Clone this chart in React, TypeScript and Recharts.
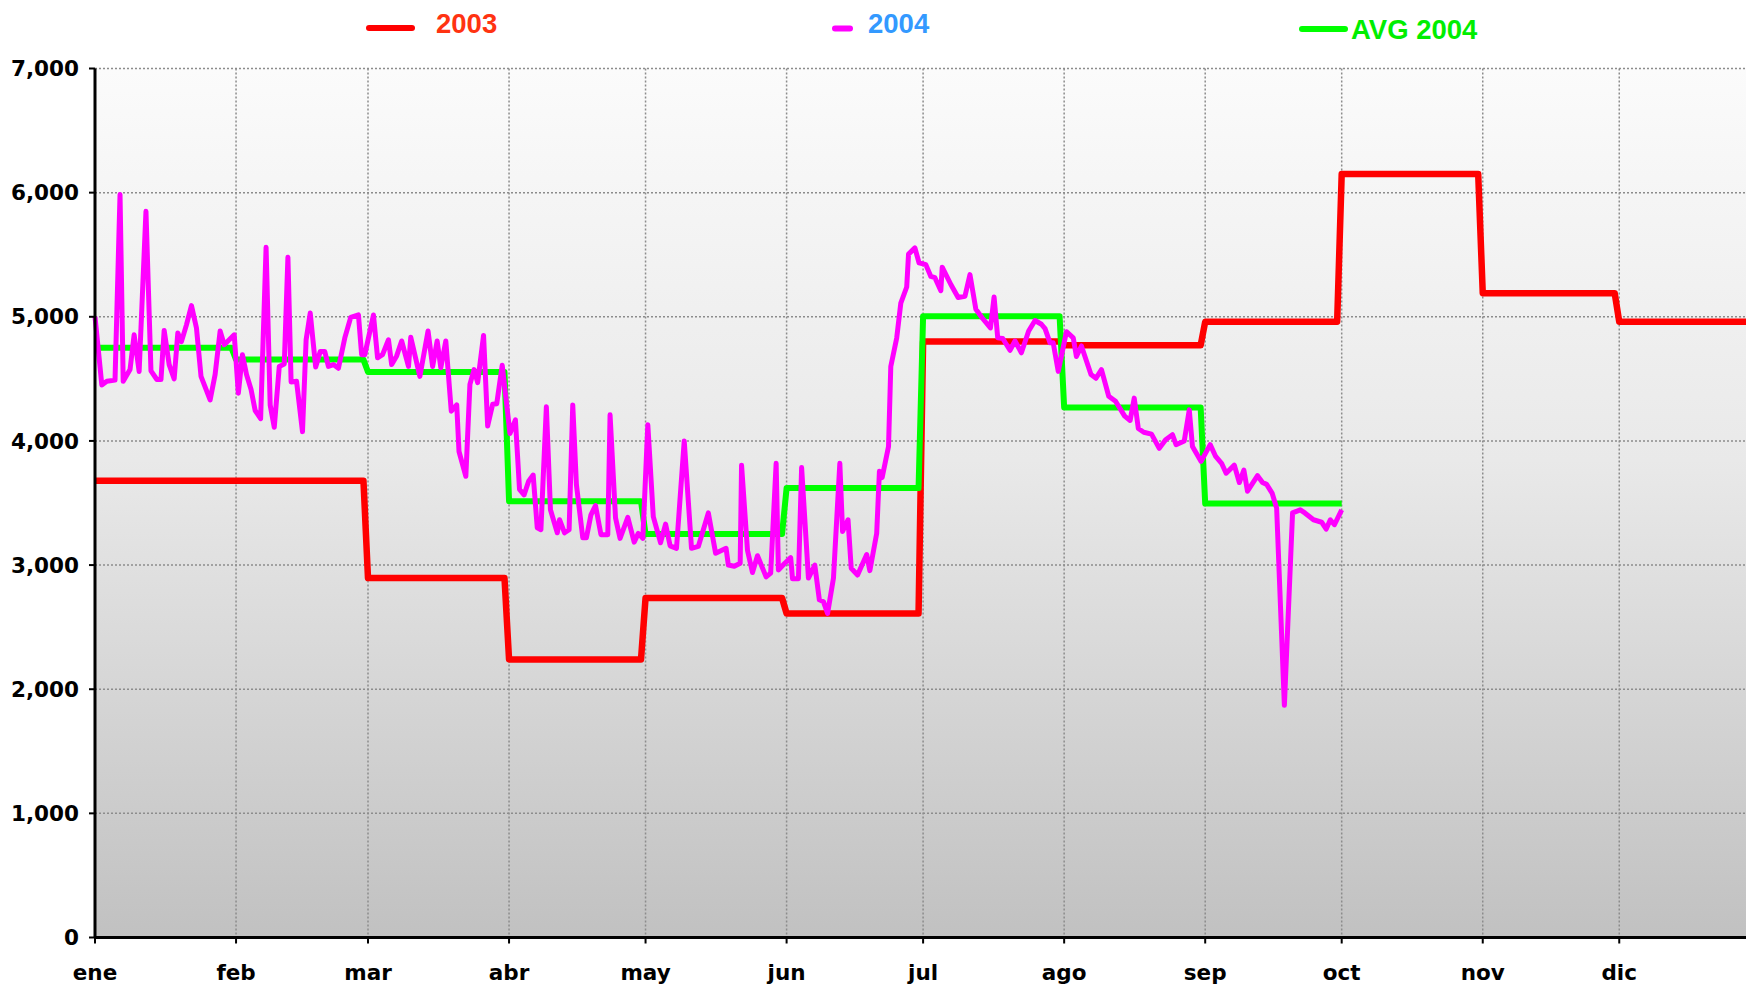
import React from 'react';
import { LineChart, Line, XAxis, YAxis, CartesianGrid } from 'recharts';

// month ticks (2004 is a leap year, day 0 = 1 ene)
const monthLabels = ['ene', 'feb', 'mar', 'abr', 'may', 'jun', 'jul', 'ago', 'sep', 'oct', 'nov', 'dic'];
const monthStarts = [0, 31, 60, 91, 121, 152, 182, 213, 244, 274, 305, 335];
const yearEnd = 366;
const yTicks = [0, 1000, 2000, 3000, 4000, 5000, 6000, 7000];

// monthly levels
const values2003 = [3680, 3680, 2895, 2240, 2735, 2610, 4800, 4770, 4960, 6150, 5190, 4960];
const avg2004 = [4750, 4655, 4555, 3515, 3250, 3620, 5005, 4270, 3495];

// daily 2004 readings (day of year, value)
const days2004 = [
  0, 1.5, 2.6, 4.4, 5.5, 6.2, 7.7, 8.6, 9.7, 11.2, 12.3, 13.6, 14.5, 15.2, 16.3, 17.4, 18.2, 19, 20.1, 21.2,
  22.3, 23.3, 24.3, 25.3, 26.4, 27.5, 28.4, 29.5, 30.6, 31.5, 32.4, 33.3, 34.3, 35.2, 36.4, 37.6, 38.5, 39.4, 40.5, 41.6,
  42.4, 43.1, 44.3, 45.6, 46.4, 47.3, 48.5, 49.5, 50.5, 51.3, 52.4, 53.5, 54.9, 56.2, 57.9, 58.6, 59.3, 61.2, 62.1, 63.2,
  64.5, 65.2, 66.3, 67.4, 68.9, 69.4, 71.4, 73.2, 74.2, 75.2, 76, 77.1, 78.3, 79.5, 80, 81.5, 82.4, 83.3, 84.1, 85.4,
  86.3, 87.4, 88.3, 89.5, 91.2, 92.4, 93.3, 94.3, 95.3, 96.3, 97.2, 98, 99.2, 100.1, 101.6, 102.1, 103.2, 104.2, 105, 105.8,
  107.2, 108, 109, 110, 111.2, 112.7, 113.2, 114.4, 115.4, 117.1, 118.5, 119.4, 120.4, 121.5, 122.7, 124.3, 125.4, 126.4, 127.8, 129.5,
  131.1, 132.6, 134.8, 136.4, 138.7, 139.2, 140.5, 141.8, 142.1, 143.4, 144.5, 145.6, 147.5, 148.5, 149.7, 150.2, 151.6, 152.9, 153.3, 154.6,
  155.3, 156.8, 158.2, 159.2, 160.1, 161, 162.3, 163.7, 164.3, 165.5, 166.2, 167.6, 169.6, 170.3, 171.8, 172.4, 173, 174.4, 174.9, 176.2,
  177.1, 178.4, 178.8, 180.2, 181.1, 182.6, 183.7, 184.6, 185.9, 186.2, 188.1, 189.7, 191.2, 192.3, 193.6, 195, 196.8, 197.6, 198.4, 199.5,
  201.1, 202.2, 203.6, 205.2, 206.6, 208, 208.8, 209.9, 210.6, 211.7, 213.5, 215, 215.7, 216.8, 218.9, 220, 221.2, 222.8, 224.3, 226.3,
  227.5, 228.4, 229.3, 230.5, 232.2, 233.9, 235.3, 236.8, 237.6, 239.4, 240.5, 241.2, 243.1, 245.1, 246.3, 247.6, 248.6, 250.4, 251.5, 252.5,
  253.3, 255.5, 256.6, 257.5, 258.7, 259.7, 261.4, 263.2, 264.9, 265.9, 267.8, 269.6, 270.6, 271.5, 272.4, 274,
];
const values2004 = [
  5000, 4450, 4480, 4490, 5985, 4480, 4575, 4855, 4560, 5850, 4565, 4495, 4495, 4890, 4615, 4500, 4870, 4800, 4935, 5090,
  4910, 4520, 4425, 4330, 4535, 4885, 4775, 4815, 4855, 4385, 4695, 4535, 4415, 4245, 4180, 5560, 4290, 4110, 4600, 4620,
  5480, 4475, 4480, 4075, 4815, 5030, 4595, 4720, 4720, 4600, 4615, 4585, 4830, 4995, 5015, 4695, 4695, 5015, 4670, 4695,
  4815, 4615, 4685, 4805, 4600, 4835, 4520, 4885, 4600, 4805, 4590, 4805, 4240, 4290, 3915, 3715, 4455, 4575, 4470, 4850,
  4120, 4295, 4300, 4610, 4060, 4170, 3610, 3565, 3675, 3725, 3300, 3285, 4275, 3445, 3260, 3365, 3260, 3285, 4290, 3650,
  3220, 3220, 3405, 3480, 3245, 3245, 4210, 3380, 3215, 3385, 3185, 3255, 3215, 4130, 3390, 3180, 3330, 3155, 3135, 4000,
  3135, 3150, 3420, 3095, 3135, 3000, 2990, 3015, 3805, 3120, 2940, 3075, 2905, 2935, 3820, 2960, 3015, 3060, 2890, 2890,
  3785, 2895, 3000, 2720, 2705, 2610, 2895, 3820, 3270, 3365, 2975, 2920, 3085, 2955, 3255, 3755, 3705, 3955, 4600, 4830,
  5110, 5240, 5505, 5555, 5435, 5420, 5325, 5315, 5210, 5400, 5260, 5155, 5165, 5340, 5060, 4990, 4910, 5160, 4830, 4825,
  4730, 4805, 4710, 4885, 4970, 4940, 4905, 4790, 4790, 4560, 4880, 4830, 4680, 4765, 4535, 4505, 4575, 4360, 4320, 4200,
  4165, 4345, 4100, 4070, 4055, 3940, 4010, 4050, 3970, 4000, 4250, 3955, 3835, 3970, 3875, 3820, 3740, 3805, 3665, 3765,
  3595, 3720, 3665, 3650, 3580, 3460, 1870, 3420, 3445, 3420, 3365, 3345, 3290, 3365, 3325, 3445,
];

// monthly level -> flat segment per month, one-day ramp between months
const stepSeries = (vals: number[]) =>
  vals.flatMap((v, i) => {
    const next = i + 1 < monthStarts.length ? monthStarts[i + 1] : yearEnd;
    const end = i === vals.length - 1 ? next : next - 1;
    return [{ x: monthStarts[i], y: v }, { x: end, y: v }];
  });

const data2003 = stepSeries(values2003);
const dataAvg = stepSeries(avg2004);
const data2004 = days2004.map((d, i) => ({ x: d, y: values2004[i] }));

const tickFont = { fontFamily: 'DejaVu Sans', fontWeight: 'bold', fontSize: 21.5, fill: '#000' };
const legendFont = { fontFamily: 'Liberation Sans, Arial', fontWeight: 'bold', fontSize: 27.5 };

export default function App() {
  return (
    <div style={{ position: 'absolute', left: 0, top: 0, width: 1746, height: 988, overflow: 'hidden', background: '#fff' }}>
      <LineChart width={1766} height={988} margin={{ top: 68.5, right: 5.7, left: 0, bottom: 20.5 }}>
        <defs>
          <linearGradient id="plotBg" x1="0" y1="0" x2="0" y2="1">
            <stop offset="0%" stopColor="#fbfbfb" />
            <stop offset="45%" stopColor="#e9e9e9" />
            <stop offset="100%" stopColor="#c1c1c1" />
          </linearGradient>
        </defs>
        <CartesianGrid fill="url(#plotBg)" stroke="#8c8c8c" strokeDasharray="2 2" strokeWidth={1.5} />
        <XAxis
          type="number"
          dataKey="x"
          domain={[0, yearEnd]}
          ticks={monthStarts}
          interval={0}
          tickFormatter={(v) => monthLabels[monthStarts.indexOf(v)]}
          tick={tickFont}
          tickSize={6}
          tickMargin={21}
          height={30}
          axisLine={{ stroke: '#000', strokeWidth: 3 }}
          tickLine={{ stroke: '#000', strokeWidth: 2 }}
        />
        <YAxis
          type="number"
          domain={[0, 7000]}
          ticks={yTicks}
          interval={0}
          width={95}
          tickFormatter={(v) => v.toLocaleString('en-US')}
          tick={tickFont}
          tickSize={6}
          tickMargin={10}
          axisLine={{ stroke: '#000', strokeWidth: 3 }}
          tickLine={{ stroke: '#000', strokeWidth: 2 }}
        />
        <Line data={data2003} dataKey="y" name="2003" stroke="#ff0000" strokeWidth={6.5} dot={false} strokeLinejoin="round" isAnimationActive={false} />
        <Line data={dataAvg} dataKey="y" name="AVG 2004" stroke="#00ff00" strokeWidth={6} dot={false} strokeLinejoin="round" isAnimationActive={false} />
        <Line data={data2004} dataKey="y" name="2004" stroke="#ff00ff" strokeWidth={5} dot={false} strokeLinejoin="round" isAnimationActive={false} />
      </LineChart>
      <svg width={1746} height={60} style={{ position: 'absolute', left: 0, top: 0 }}>
        <line x1={369} y1={28} x2={412} y2={28} stroke="#ff0000" strokeWidth={6} strokeLinecap="round" />
        <text x={436} y={33} fill="#ff3311" {...legendFont}>2003</text>
        <line x1={835} y1={28.5} x2={850} y2={28.5} stroke="#ff00ff" strokeWidth={6} strokeLinecap="round" />
        <text x={868} y={33} fill="#3399ff" {...legendFont}>2004</text>
        <line x1={1302} y1={29} x2={1345} y2={29} stroke="#00ff00" strokeWidth={6} strokeLinecap="round" />
        <text x={1351} y={39} fill="#00ee00" {...legendFont}>AVG 2004</text>
      </svg>
    </div>
  );
}
